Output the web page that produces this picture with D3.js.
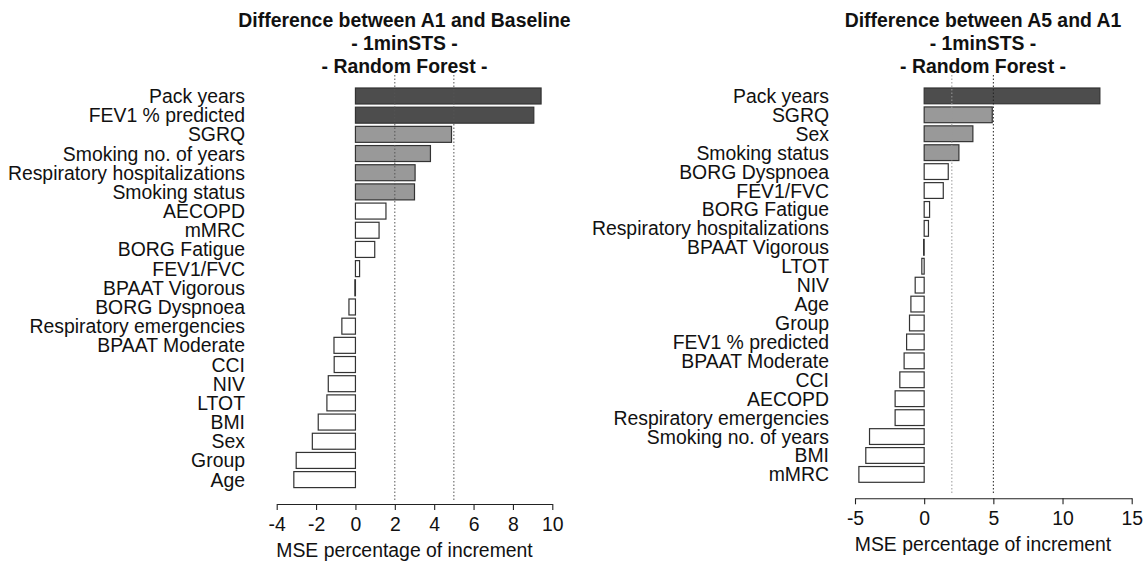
<!DOCTYPE html>
<html>
<head>
<meta charset="utf-8">
<script src="https://cdn.jsdelivr.net/npm/d3@7"></script>
<style>
  html, body { margin: 0; padding: 0; background: #fff; }
  svg { display: block; }
  text { font-family: "Liberation Sans", Arial, Helvetica, sans-serif; fill: #111; }
</style>
</head>
<body>
<svg id="chart" width="1146" height="563"></svg>
<script>
// Variable importance (% increase in MSE), random forest, 1minSTS outcome
const leftCategories = [
  "Pack years", "FEV1 % predicted", "SGRQ", "Smoking no. of years",
  "Respiratory hospitalizations", "Smoking status", "AECOPD", "mMRC",
  "BORG Fatigue", "FEV1/FVC", "BPAAT Vigorous", "BORG Dyspnoea",
  "Respiratory emergencies", "BPAAT Moderate", "CCI", "NIV", "LTOT",
  "BMI", "Sex", "Group", "Age"
];
const leftValues = [
  9.43, 9.06, 4.88, 3.81, 3.03, 3.0, 1.55, 1.2, 0.98, 0.21, -0.03, -0.33,
  -0.69, -1.09, -1.08, -1.38, -1.45, -1.89, -2.19, -3.01, -3.13
];

const rightCategories = [
  "Pack years", "SGRQ", "Sex", "Smoking status", "BORG Dyspnoea",
  "FEV1/FVC", "BORG Fatigue", "Respiratory hospitalizations",
  "BPAAT Vigorous", "LTOT", "NIV", "Age", "Group", "FEV1 % predicted",
  "BPAAT Moderate", "CCI", "AECOPD", "Respiratory emergencies",
  "Smoking no. of years", "BMI", "mMRC"
];
const rightValues = [
  12.7, 4.92, 3.52, 2.51, 1.74, 1.38, 0.39, 0.31, -0.04, -0.17, -0.65,
  -0.96, -1.06, -1.27, -1.45, -1.76, -2.1, -2.1, -3.95, -4.22, -4.72
];

const leftTicks = [-4, -2, 0, 2, 4, 6, 8, 10];
const rightTicks = [-5, 0, 5, 10, 15];
const refLines = [2, 5];

const leftTitle = ["Difference between A1 and Baseline", "- 1minSTS -", "- Random Forest -"];
const rightTitle = ["Difference between A5 and A1", "- 1minSTS -", "- Random Forest -"];
const axisTitle = "MSE percentage of increment";

// Bar fill by importance band: < 2 white, 2-5 mid grey, > 5 dark grey
const fillScale = d3.scaleThreshold()
  .domain(refLines)
  .range(["#ffffff", "#999999", "#4d4d4d"]);

const svg = d3.select("#chart");
const FONT = 19.4;

function panel(cfg) {
  const g = svg.append("g");

  const x = d3.scaleLinear().domain(cfg.domain).range(cfg.xRange);
  const y = d3.scaleBand()
    .domain(cfg.categories)
    .range(cfg.yRange)
    .paddingInner(0.2 / 1.2)
    .paddingOuter(0);

  // titles
  g.selectAll("text.title")
    .data(cfg.title)
    .join("text")
    .attr("class", "title")
    .attr("x", cfg.center)
    .attr("y", (d, i) => 26.7 + i * 23)
    .attr("text-anchor", "middle")
    .style("font-size", FONT + "px")
    .style("font-weight", "bold")
    .text(d => d);

  // bars
  const data = cfg.categories.map((c, i) => ({ c, v: cfg.values[i] }));
  g.selectAll("rect.bar")
    .data(data)
    .join("rect")
    .attr("class", "bar")
    .attr("x", d => x(Math.min(0, d.v)))
    .attr("y", d => y(d.c))
    .attr("width", d => Math.abs(x(d.v) - x(0)))
    .attr("height", y.bandwidth())
    .attr("fill", d => fillScale(d.v))
    .attr("stroke", "#333")
    .attr("stroke-width", 1.2);

  // reference lines
  g.selectAll("line.ref")
    .data(refLines)
    .join("line")
    .attr("class", "ref")
    .attr("x1", d => x(d)).attr("x2", d => x(d))
    .attr("y1", 75).attr("y2", cfg.axisY - 4)
    .attr("stroke", (d, i) => cfg.refColors[i])
    .attr("stroke-width", 1)
    .attr("stroke-dasharray", "1.5,2");

  // category labels
  g.selectAll("text.cat")
    .data(cfg.categories)
    .join("text")
    .attr("class", "cat")
    .attr("x", cfg.labelX)
    .attr("y", d => y(d) + y.bandwidth() / 2)
    .attr("dy", "0.36em")
    .attr("text-anchor", "end")
    .style("font-size", FONT + "px")
    .text(d => d);

  // x axis
  const axis = d3.axisBottom(x)
    .tickValues(cfg.ticks)
    .tickFormat(d3.format("d"))
    .tickSizeInner(6)
    .tickSizeOuter(0)
    .tickPadding(7);
  const ag = g.append("g")
    .attr("transform", `translate(0,${cfg.axisY})`)
    .call(axis);
  ag.select(".domain").attr("stroke", "#222").attr("stroke-width", 1.1);
  ag.selectAll(".tick line").attr("stroke", "#222").attr("stroke-width", 1.1);
  ag.selectAll(".tick text")
    .style("font-size", FONT + "px")
    .style("font-family", '"Liberation Sans", Arial, sans-serif')
    .attr("fill", "#111")
    .text(d => d < 0 ? "-" + Math.abs(d) : String(d));

  g.append("text")
    .attr("x", cfg.center)
    .attr("y", cfg.axisY + 53)
    .attr("text-anchor", "middle")
    .style("font-size", FONT + "px")
    .text(axisTitle);
}

panel({
  categories: leftCategories,
  values: leftValues,
  domain: [-4, 10],
  xRange: [276.7, 552.3],
  yRange: [88, 487.6],
  ticks: leftTicks,
  title: leftTitle,
  center: 404.5,
  labelX: 245,
  axisY: 504,
  refColors: ["#555", "#555"]
});

panel({
  categories: rightCategories,
  values: rightValues,
  domain: [-5, 15],
  xRange: [855, 1131.7],
  yRange: [88, 482.3],
  ticks: rightTicks,
  title: rightTitle,
  center: 983,
  labelX: 829,
  axisY: 498.3,
  refColors: ["#999", "#222"]
});
</script>
</body>
</html>
